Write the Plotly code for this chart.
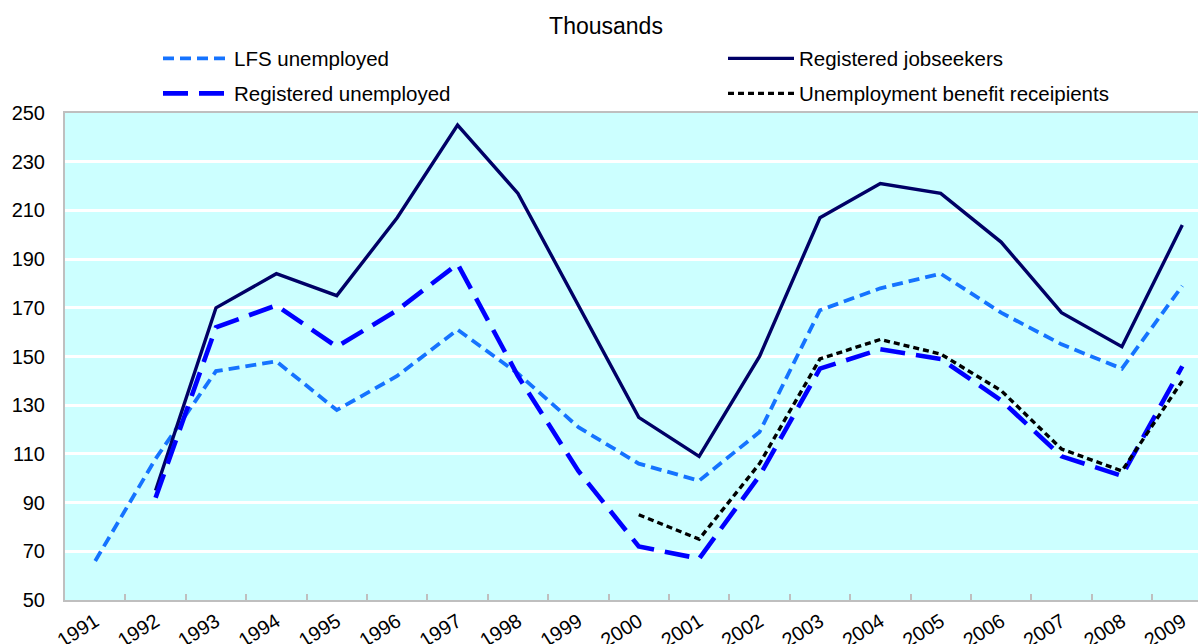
import plotly.graph_objects as go

years = [str(y) for y in range(1991, 2010)]

lfs_unemployed = [66, 108, 144, 148, 128, 142, 161, 143, 121, 106, 99, 119, 169, 178, 184, 168, 155, 145, 179]
registered_jobseekers = [None, 95, 170, 184, 175, 207, 245, 217, 171, 125, 109, 150, 207, 221, 217, 197, 168, 154, 204]
registered_unemployed = [None, 92, 162, 171, 154, 169, 188, 142, 103, 72, 67, 101, 145, 153, 149, 132, 109, 101, 146]
benefit_recipients = [None, None, None, None, None, None, None, None, None, 85, 75, 106, 149, 157, 151, 136, 112, 103, 140]

y_ticks = list(range(50, 251, 20))

FONT = "Liberation Sans, Arial, sans-serif"

PLOT_L, PLOT_T, PLOT_B = 65, 113, 600
PLOT_W = 1198 - PLOT_L
PLOT_H = PLOT_B - PLOT_T


def px_x(x):
    return (x - PLOT_L) / PLOT_W


def px_y(y):
    return 1 + (PLOT_T - y) / PLOT_H


fig = go.Figure()
fig.add_trace(go.Scatter(x=years, y=lfs_unemployed, name="LFS unemployed", mode="lines", showlegend=True,
                         line=dict(color="#1573FF", width=3.8, dash="11px,6px"), legend="legend"))
fig.add_trace(go.Scatter(x=years, y=registered_jobseekers, name="Registered jobseekers", mode="lines", showlegend=True,
                         line=dict(color="#000066", width=3.4), legend="legend2"))
fig.add_trace(go.Scatter(x=years, y=registered_unemployed, name="Registered unemployed", mode="lines", showlegend=True,
                         line=dict(color="#0000FF", width=4.6, dash="25px,11px"), legend="legend3"))
fig.add_trace(go.Scatter(x=years, y=benefit_recipients, name="Unemployment benefit receipients", mode="lines", showlegend=True,
                         line=dict(color="#000000", width=3.4, dash="6px,4px"), legend="legend4"))

legend_common = dict(orientation="h", xanchor="left", yanchor="middle",
                     font=dict(family=FONT, size=20.5, color="#000"),
                     bgcolor="rgba(0,0,0,0)", borderwidth=0, itemwidth=66)

fig.update_layout(
    width=1198, height=644,
    showlegend=True,
    margin=dict(l=PLOT_L, r=0, t=PLOT_T, b=644 - PLOT_B, autoexpand=False),
    paper_bgcolor="white",
    plot_bgcolor="#CCFFFF",
    font=dict(family=FONT, size=20, color="#000"),
    title=dict(text="Thousands", x=606/1198, xref="container", xanchor="center",
               y=1-25.5/644, yref="container", yanchor="middle",
               font=dict(family=FONT, size=23, color="#000")),
    legend=dict(x=px_x(158), y=px_y(58.5), **legend_common),
    legend2=dict(x=px_x(723), y=px_y(58.5), **legend_common),
    legend3=dict(x=px_x(158), y=px_y(93.5), **legend_common),
    legend4=dict(x=px_x(723), y=px_y(93.5), **legend_common),
    xaxis=dict(type="category", range=[-0.5, 18.26], tickson="boundaries",
               ticks="inside", ticklen=6, tickcolor="#BFBFBF", tickwidth=2,
               showline=True, linecolor="#BFBFBF", linewidth=2, mirror=True,
               showgrid=False, tickangle=-32, ticklabelstandoff=0, automargin=False,
               tickfont=dict(family=FONT, size=20, color="#000")),
    yaxis=dict(range=[50, 250], tickvals=y_ticks, ticks="",
               showline=True, linecolor="#BFBFBF", linewidth=2, mirror=False,
               showgrid=True, gridcolor="white", gridwidth=2.5, zeroline=False,
               ticklabelstandoff=14, automargin=False,
               tickfont=dict(family=FONT, size=20, color="#000")),
)

fig.write_html("out.html", config={"displayModeBar": False},
               post_script="document.body.style.margin='0';document.body.style.overflow='hidden';")
